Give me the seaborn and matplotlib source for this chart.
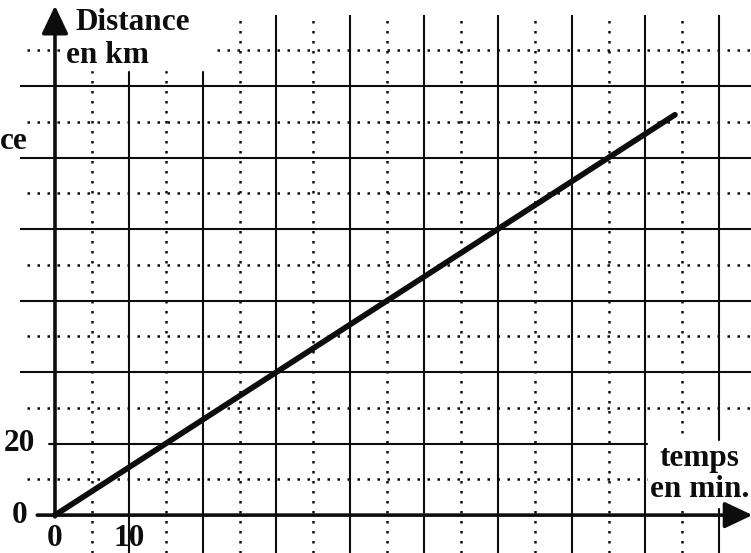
import matplotlib
matplotlib.use('Agg')
import matplotlib.pyplot as plt
import matplotlib.patches as mpatches
import seaborn as sns

# Data: a constant speed, 20 km every 15 min
time_min = [0, 84]
dist_km = [0, 112]

# Grid of the squared paper
solid_x = [10, 20, 30, 40, 50, 60, 70, 80, 90]
dotted_x = [5, 15, 25, 35, 45, 55, 65, 75, 85]
solid_y = [20, 40, 60, 80, 100, 120]
dotted_y = [10, 30, 50, 70, 90, 110, 130]

x_ticks = [0, 10]
y_ticks = [0, 20]

sns.set_style('white')
plt.rcParams['font.family'] = ['Liberation Serif', 'DejaVu Serif']

fig = plt.figure(figsize=(7.51, 5.53), dpi=100)
ax = fig.add_axes([0, 0, 1, 1])
ax.set_xlim(-7.45, 94.3)
ax.set_ylim(-10.6, 144.1)
ax.axis('off')

ink = '#0d0d0d'
dots = (0, (1, 3))

# Squared paper
ax.vlines(solid_x, -10.6, 140, colors=ink, lw=1.5, zorder=1)
ax.vlines(dotted_x, -10.6, 138.5, colors=ink, lw=1.8, linestyles=dots, zorder=1)
ax.hlines(solid_y[1:], -4.7, 94.3, colors=ink, lw=1.5, zorder=1)
ax.hlines(solid_y[:1], -0.7, 94.3, colors=ink, lw=1.5, zorder=1)
ax.hlines(dotted_y, -3.8, 94.3, colors=ink, lw=1.8, linestyles=dots, zorder=1)

# White areas behind the axis titles
ax.add_patch(mpatches.Rectangle((0.95, 124.5), 20.3, 20, color='white', zorder=2))
ax.add_patch(mpatches.Rectangle((80.4, 2.2), 14, 18.4, color='white', zorder=2))

# Axes with arrows
arrow = dict(arrowstyle='-|>,head_length=0.95,head_width=0.45',
             lw=2.6, color=ink, mutation_scale=18, shrinkA=0, shrinkB=0)
ax.annotate('', xy=(0, 142.5), xytext=(0, -0.5), arrowprops=arrow,
            annotation_clip=False, zorder=4)
ax.annotate('', xy=(94.5, 0), xytext=(-2.4, 0), arrowprops=arrow,
            annotation_clip=False, zorder=4)

# The distance curve
sns.lineplot(x=time_min, y=dist_km, color=ink, lw=4.1, ax=ax, zorder=3)

font = dict(fontweight='bold', color=ink, fontsize=22.5)
for t in x_ticks:
    ax.text(t, -10.5, str(t), ha='center', va='bottom', **font)
for d in y_ticks:
    ax.text(-4.8, d, str(d), ha='center', va='center', **font)
ax.plot([-0.8, 0], [20, 20], color=ink, lw=1.5, zorder=4)

ax.text(2.8, 137.9, 'Distance', ha='left', va='center', **font)
ax.text(1.5, 128.7, 'en km', ha='left', va='center', **font)
ax.text(-7.45, 104.5, 'ce', ha='left', va='center', **font)
ax.text(87.3, 15.7, 'temps', ha='center', va='center', **font)
ax.text(87.4, 7.3, 'en min.', ha='center', va='center', **font)

fig.savefig('out.png', dpi=100)
